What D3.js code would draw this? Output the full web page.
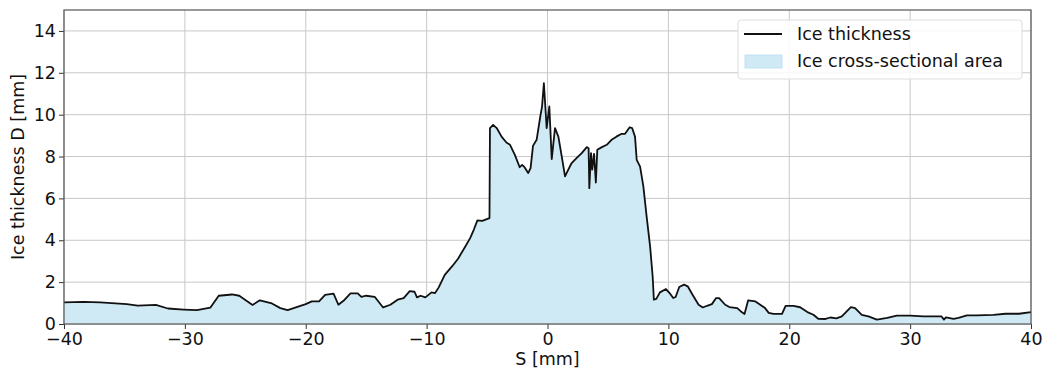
<!DOCTYPE html>
<html>
<head>
<meta charset="utf-8">
<script src="https://cdn.jsdelivr.net/npm/d3@7"></script>
<style>
  body { margin: 0; background: #fff; }
  svg { font-family: "DejaVu Sans", sans-serif; }
</style>
</head>
<body>
<script>
// Position le long du profil S [mm]
const sValues = [
  -40, -38.4, -37.0, -34.8, -33.9, -32.4, -31.4, -30.1, -29.0, -27.9,
  -27.2, -26.1, -25.5, -24.4, -23.8, -22.8, -22.1, -21.5, -20.0, -19.5,
  -18.9, -18.4, -17.7, -17.3, -16.8, -16.3, -15.7, -15.4, -15.0, -14.3,
  -13.6, -13.0, -12.4, -11.9, -11.4, -11.0, -10.8, -10.5, -10.1, -9.6,
  -9.3, -9.0, -8.5, -7.9, -7.4, -6.8, -6.4, -6.1, -5.8, -5.4,
  -4.8, -4.76, -4.5, -4.2, -3.8, -3.4, -3.1, -2.7, -2.3, -2.1,
  -1.9, -1.6, -1.4, -1.2, -0.9, -0.6, -0.45, -0.3, -0.07, 0.15,
  0.35, 0.62, 0.9, 1.18, 1.45, 1.72, 2.0, 2.4, 2.83, 3.25,
  3.4, 3.46, 3.6, 3.7, 3.85, 4.0, 4.12, 4.5, 4.9, 5.3,
  5.7, 6.1, 6.4, 6.8, 7.0, 7.24, 7.38, 7.66, 7.93, 8.2,
  8.49, 8.7, 8.8, 9.0, 9.3, 9.8, 10.1, 10.4, 10.6, 10.9,
  11.3, 11.6, 12.0, 12.5, 12.85, 13.2, 13.6, 13.95, 14.2, 14.7,
  15.05, 15.7, 16.0, 16.3, 16.6, 17.2, 17.6, 18.0, 18.3, 18.7,
  19.4, 19.7, 20.35, 20.9, 21.5, 22.0, 22.4, 23.0, 23.4, 23.9,
  24.35, 25.1, 25.45, 26.0, 26.55, 27.25, 28.1, 28.9, 30.0, 31.1,
  32.6, 32.8, 32.96, 33.6, 34.0, 34.7, 35.5, 36.9, 37.9, 39.0,
  40.0
];

// Epaisseur de glace D [mm]
const dValues = [
  1.03, 1.06, 1.03, 0.95, 0.88, 0.91, 0.74, 0.69, 0.66, 0.78,
  1.35, 1.41, 1.35, 0.91, 1.13, 0.98, 0.76, 0.66, 0.95, 1.08,
  1.08, 1.39, 1.45, 0.92, 1.15, 1.46, 1.46, 1.30, 1.35, 1.30,
  0.79, 0.92, 1.16, 1.24, 1.57, 1.54, 1.27, 1.35, 1.27, 1.51,
  1.48, 1.75, 2.35, 2.75, 3.12, 3.70, 4.10, 4.50, 4.95, 4.93,
  5.06, 9.36, 9.51, 9.36, 8.95, 8.67, 8.56, 8.08, 7.49, 7.60,
  7.49, 7.21, 7.45, 8.51, 8.80, 9.9, 10.4, 11.5, 9.36, 10.39,
  7.88, 9.36, 8.95, 8.0, 7.05, 7.37, 7.69, 7.92, 8.16, 8.45,
  8.4, 6.49, 8.16, 7.37, 8.13, 6.76, 8.32, 8.45, 8.56, 8.80,
  8.95, 9.08, 9.08, 9.40, 9.36, 8.95, 7.84, 7.52, 6.57, 5.14,
  3.70, 2.27, 1.16, 1.20, 1.51, 1.67, 1.48, 1.24, 1.29, 1.77,
  1.88, 1.80, 1.40, 0.92, 0.79, 0.87, 0.95, 1.24, 1.24, 0.92,
  0.81, 0.76, 0.60, 0.48, 1.13, 1.08, 0.92, 0.76, 0.53, 0.48,
  0.48, 0.87, 0.87, 0.80, 0.57, 0.44, 0.25, 0.24, 0.31, 0.27,
  0.36, 0.81, 0.76, 0.44, 0.36, 0.21, 0.29, 0.40, 0.40, 0.36,
  0.36, 0.21, 0.32, 0.24, 0.29, 0.41, 0.41, 0.44, 0.49, 0.49,
  0.57
];

const xTicks = [-40, -30, -20, -10, 0, 10, 20, 30, 40];
const yTicks = [0, 2, 4, 6, 8, 10, 12, 14];
const legendLabels = ["Ice thickness", "Ice cross-sectional area"];

const data = sValues.map((s, i) => ({ s: s, d: dValues[i] }));

const W = 1043, H = 374;
const margin = { top: 10, right: 12, bottom: 50, left: 64 };
const width = W - margin.left - margin.right;
const height = H - margin.top - margin.bottom;

const svg = d3.select("body").append("svg")
  .attr("width", W)
  .attr("height", H);

const g = svg.append("g")
  .attr("transform", `translate(${margin.left},${margin.top})`);

const x = d3.scaleLinear().domain([-40, 40]).range([0, width]);
const y = d3.scaleLinear().domain([0, 15]).range([height, 0]);

// Grille
g.append("g")
  .selectAll("line")
  .data(xTicks)
  .join("line")
  .attr("x1", d => x(d)).attr("x2", d => x(d))
  .attr("y1", 0).attr("y2", height)
  .attr("stroke", "#c8c8c8").attr("stroke-width", 1);

g.append("g")
  .selectAll("line")
  .data(yTicks)
  .join("line")
  .attr("x1", 0).attr("x2", width)
  .attr("y1", d => y(d)).attr("y2", d => y(d))
  .attr("stroke", "#c8c8c8").attr("stroke-width", 1);

// Aire + ligne
const area = d3.area()
  .x(d => x(d.s))
  .y0(y(0))
  .y1(d => y(d.d));

const line = d3.line()
  .x(d => x(d.s))
  .y(d => y(d.d));

g.append("path")
  .datum(data)
  .attr("d", area)
  .attr("fill", "#cfe9f5");

g.append("path")
  .datum(data)
  .attr("d", line)
  .attr("fill", "none")
  .attr("stroke", "#111")
  .attr("stroke-width", 1.8)
  .attr("stroke-linejoin", "round");

// Axes
const fmt = d => d < 0 ? "\u2212" + Math.abs(d) : String(d);

const xAxis = g.append("g")
  .attr("transform", `translate(0,${height})`)
  .call(d3.axisBottom(x).tickValues(xTicks).tickFormat(fmt).tickSize(5).tickPadding(4));

const yAxis = g.append("g")
  .call(d3.axisLeft(y).tickValues(yTicks).tickFormat(fmt).tickSize(5).tickPadding(3));

[xAxis, yAxis].forEach(a => {
  a.select(".domain").remove();
  a.selectAll("line").attr("stroke", "#333");
  a.selectAll("text").attr("font-size", 17.5).attr("fill", "#111")
    .attr("font-family", "DejaVu Sans");
});

// Cadre
g.append("rect")
  .attr("width", width).attr("height", height)
  .attr("fill", "none").attr("stroke", "#555").attr("stroke-width", 1.2);

// Titres des axes
svg.append("text")
  .attr("x", margin.left + width / 2)
  .attr("y", 365)
  .attr("text-anchor", "middle")
  .attr("font-size", 17.5)
  .attr("fill", "#111")
  .text("S [mm]");

svg.append("text")
  .attr("transform", `translate(24,${margin.top + height / 2}) rotate(-90)`)
  .attr("text-anchor", "middle")
  .attr("font-size", 17.5)
  .attr("fill", "#111")
  .text("Ice thickness D [mm]");

// Légende
const legend = svg.append("g").attr("transform", "translate(738,20)");
legend.append("rect")
  .attr("width", 284).attr("height", 59).attr("rx", 3)
  .attr("fill", "rgba(255,255,255,0.85)")
  .attr("stroke", "#ddd");

legend.append("line")
  .attr("x1", 6).attr("x2", 44)
  .attr("y1", 14).attr("y2", 14)
  .attr("stroke", "#111").attr("stroke-width", 1.8);

legend.append("rect")
  .attr("x", 7).attr("y", 35).attr("width", 37).attr("height", 13)
  .attr("fill", "#cfe9f5").attr("stroke", "#bfe2f2");

legend.selectAll("text")
  .data(legendLabels)
  .join("text")
  .attr("x", 59)
  .attr("y", (d, i) => 14 + i * 27)
  .attr("dy", "0.35em")
  .attr("font-size", 17.5)
  .attr("fill", "#111")
  .text(d => d);
</script>
</body>
</html>
